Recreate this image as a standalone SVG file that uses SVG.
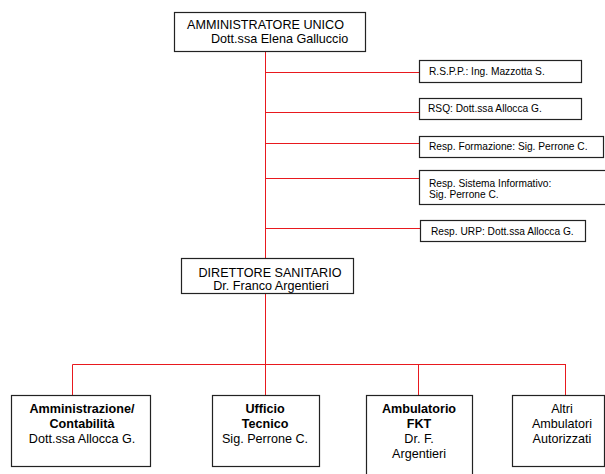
<svg xmlns="http://www.w3.org/2000/svg" width="605" height="474" viewBox="0 0 605 474">
<style>
.box{fill:#fff;stroke:#222;stroke-width:1.2}
.ln{stroke:#e8191e;stroke-width:1;fill:none}
text{font-family:"Liberation Sans",Arial,sans-serif;fill:#000}
.big{font-size:12.6px}
.sm{font-size:10.2px}
.b{font-weight:bold}
.c{text-anchor:middle}
</style>
<g id="connectors">
<path class="ln" d="M265.5,51V258"/>
<path class="ln" d="M265.5,72.5H419M265.5,112.5H419M265.5,143.5H419M265.5,178.5H419M265.5,228.5H421"/>
<path class="ln" d="M265.5,293V364.5M72.5,364.5H566M72.5,364.5V395M265.5,364.5V395M418.5,364.5V395M565.5,364.5V395"/>
</g>
<g id="n_amm">
<rect class="box" x="174.5" y="12.5" width="191" height="39"/>
<text class="big" x="187" y="29">AMMINISTRATORE UNICO</text>
<text class="big" x="211" y="43">Dott.ssa Elena Galluccio</text>
</g>
<g id="n_rspp">
<rect class="box" x="419.5" y="60.5" width="162" height="22"/>
<text class="sm" x="429" y="75">R.S.P.P.: Ing. Mazzotta S.</text>
</g>
<g id="n_rsq">
<rect class="box" x="419.5" y="98.5" width="162" height="21"/>
<text class="sm" x="428" y="112">RSQ: Dott.ssa Allocca G.</text>
</g>
<g id="n_form">
<rect class="box" x="419.5" y="136.5" width="184" height="21"/>
<text class="sm" x="429" y="150">Resp. Formazione: Sig. Perrone C.</text>
</g>
<g id="n_sist">
<rect class="box" x="419.5" y="170.5" width="190" height="34"/>
<text class="sm" x="429" y="187">Resp. Sistema Informativo:</text>
<text class="sm" x="429" y="198">Sig. Perrone C.</text>
</g>
<g id="n_urp">
<rect class="box" x="420.5" y="220.5" width="165" height="21"/>
<text class="sm" x="431" y="235">Resp. URP: Dott.ssa Allocca G.</text>
</g>
<g id="n_dir">
<rect class="box" x="181.5" y="258.5" width="172" height="35"/>
<text class="big c" x="270" y="277">DIRETTORE SANITARIO</text>
<text class="big c" x="271" y="290">Dr. Franco Argentieri</text>
</g>
<g id="n_contab">
<rect class="box" x="11.5" y="395.5" width="139" height="71"/>
<text class="big b c" x="82" y="413">Amministrazione/</text>
<text class="big b c" x="82" y="428">Contabilità</text>
<text class="big c" x="82" y="443">Dott.ssa Allocca G.</text>
</g>
<g id="n_tecnico">
<rect class="box" x="212.5" y="395.5" width="107" height="71"/>
<text class="big b c" x="265" y="413">Ufficio</text>
<text class="big b c" x="265" y="428">Tecnico</text>
<text class="big c" x="265" y="443">Sig. Perrone C.</text>
</g>
<g id="n_fkt">
<rect class="box" x="366.5" y="395.5" width="106" height="85"/>
<text class="big b c" x="419" y="413">Ambulatorio</text>
<text class="big b c" x="419" y="428">FKT</text>
<text class="big c" x="419" y="443">Dr. F.</text>
<text class="big c" x="419" y="458">Argentieri</text>
</g>
<g id="n_altri">
<rect class="box" x="512.5" y="395.5" width="92" height="71"/>
<text class="big c" x="562" y="413">Altri</text>
<text class="big c" x="562" y="428">Ambulatori</text>
<text class="big c" x="562" y="443">Autorizzati</text>
</g>
</svg>
